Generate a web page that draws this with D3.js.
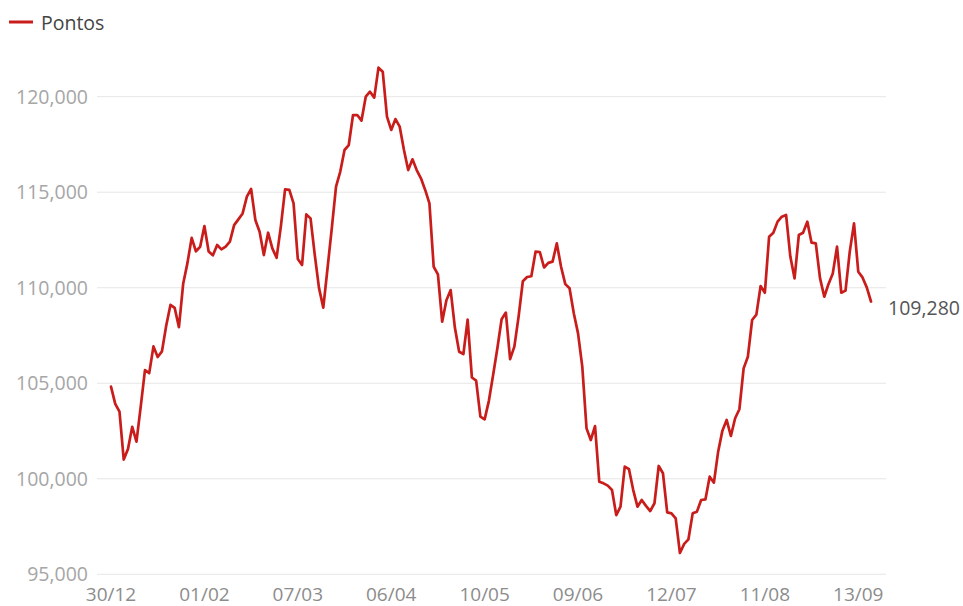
<!DOCTYPE html>
<html>
<head>
<meta charset="utf-8">
<script src="https://cdn.jsdelivr.net/npm/d3@7"></script>
<style>
html,body{margin:0;padding:0;background:#fff;}
svg{display:block;font-family:"Open Sans",sans-serif;}
</style>
</head>
<body>
<svg id="chart" width="963" height="606"></svg>
<script>
const seriesName = "Pontos";
const dates = [
"30/12",
"03/01","04/01","05/01","06/01","07/01","10/01","11/01","12/01","13/01","14/01","17/01","18/01","19/01","20/01","21/01","24/01","25/01","26/01","27/01","28/01","31/01",
"01/02","02/02","03/02","04/02","07/02","08/02","09/02","10/02","11/02","14/02","15/02","16/02","17/02","18/02","21/02","22/02","23/02","24/02","25/02",
"02/03","03/03","04/03","07/03","08/03","09/03","10/03","11/03","14/03","15/03","16/03","17/03","18/03","21/03","22/03","23/03","24/03","25/03","28/03","29/03","30/03","31/03",
"01/04","04/04","05/04","06/04","07/04","08/04","11/04","12/04","13/04","14/04","18/04","19/04","20/04","22/04","25/04","26/04","27/04","28/04","29/04",
"02/05","03/05","04/05","05/05","06/05","09/05","10/05","11/05","12/05","13/05","16/05","17/05","18/05","19/05","20/05","23/05","24/05","25/05","26/05","27/05","30/05","31/05",
"01/06","02/06","03/06","06/06","07/06","08/06","09/06","10/06","13/06","14/06","15/06","17/06","20/06","21/06","22/06","23/06","24/06","27/06","28/06","29/06","30/06",
"01/07","04/07","05/07","06/07","07/07","08/07","11/07","12/07","13/07","14/07","15/07","18/07","19/07","20/07","21/07","22/07","25/07","26/07","27/07","28/07","29/07",
"01/08","02/08","03/08","04/08","05/08","08/08","09/08","10/08","11/08","12/08","15/08","16/08","17/08","18/08","19/08","22/08","23/08","24/08","25/08","26/08","29/08","30/08","31/08",
"01/09","02/09","05/09","06/09","08/09","09/09","12/09","13/09","14/09","15/09","16/09"
];
const values = [
104822,
103922,103514,101006,101561,102719,101945,103779,105685,105530,106928,106374,106668,108013,109102,108942,107937,110204,111289,112611,111910,112143,
113228,111894,111696,112240,112010,112150,112410,113280,113580,113890,114770,115170,113550,112930,111710,112880,112060,111570,113200,
115150,115120,114420,111500,111190,113840,113630,111710,109970,108960,111020,113110,115290,116080,117210,117470,119040,119040,118750,120000,120260,119950,
121520,121310,118960,118260,118830,118430,117210,116160,116720,116160,115730,115120,114420,111100,110700,108220,109350,109880,107900,
106650,106530,108330,105300,105140,103250,103110,104080,105430,106830,108350,108700,106260,106920,108490,110340,110560,110600,111890,111870,111060,111300,
111365,112320,111100,110190,109970,108660,107610,105870,102640,102030,102760,99850,99760,99640,99410,98100,98540,100640,100500,99410,98540,
98890,98580,98310,98720,100670,100290,98240,98190,97930,96115,96590,96830,98190,98280,98890,98920,100110,99800,101420,102520,103080,
102240,103170,103640,105780,106390,108310,108590,110090,109740,112670,112880,113460,113720,113810,111630,110490,112760,112880,113460,112360,112320,110490,109530,
110200,110750,112150,109740,109850,111890,113370,110840,110540,110020,109280
];
const yTicks = [95000, 100000, 105000, 110000, 115000, 120000];
const xTickLabels = ["30/12","01/02","07/03","06/04","10/05","09/06","12/07","11/08","13/09"];
const lastLabel = "109,280";

const svg = d3.select("#chart");
const lineColor = "#c91d1b";
const gridLeft = 97, gridRight = 886;

const x = d3.scalePoint().domain(dates).range([111, 871]);
const y = d3.scaleLinear().domain([95000, 120000]).range([574.3, 96.7]);
const fmt = d3.format(",");

// gridlines
svg.append("g").selectAll("line").data(yTicks).join("line")
  .attr("x1", gridLeft).attr("x2", gridRight)
  .attr("y1", d => y(d)).attr("y2", d => y(d))
  .attr("stroke", "#e6e6e6").attr("stroke-width", 1);

// y labels
svg.append("g").selectAll("text").data(yTicks).join("text")
  .attr("x", 88).attr("y", d => y(d) + 7)
  .attr("text-anchor", "end")
  .attr("font-size", 19.5).attr("fill", "#a6a6a6")
  .text(d => fmt(d));

// x labels
svg.append("g").selectAll("text").data(xTickLabels).join("text")
  .attr("x", d => x(d)).attr("y", 601)
  .attr("text-anchor", "middle")
  .attr("font-size", 19).attr("fill", "#8c8c8c")
  .text(d => d);

// line
const line = d3.line().x((d, i) => x(dates[i])).y(d => y(d));
svg.append("path").datum(values)
  .attr("d", line)
  .attr("fill", "none")
  .attr("stroke", lineColor)
  .attr("stroke-width", 2.7)
  .attr("stroke-linejoin", "round")
  .attr("stroke-linecap", "round");

// last value label
svg.append("text")
  .attr("x", 888).attr("y", y(values[values.length - 1]) + 14)
  .attr("font-size", 19.5).attr("fill", "#555")
  .text(lastLabel);

// legend
const lg = svg.append("g");
lg.append("line").attr("x1", 9).attr("x2", 33).attr("y1", 22).attr("y2", 22)
  .attr("stroke", lineColor).attr("stroke-width", 3);
lg.append("text").attr("x", 41).attr("y", 29.5)
  .attr("font-size", 19.5).attr("fill", "#444")
  .text(seriesName);
</script>
</body>
</html>
